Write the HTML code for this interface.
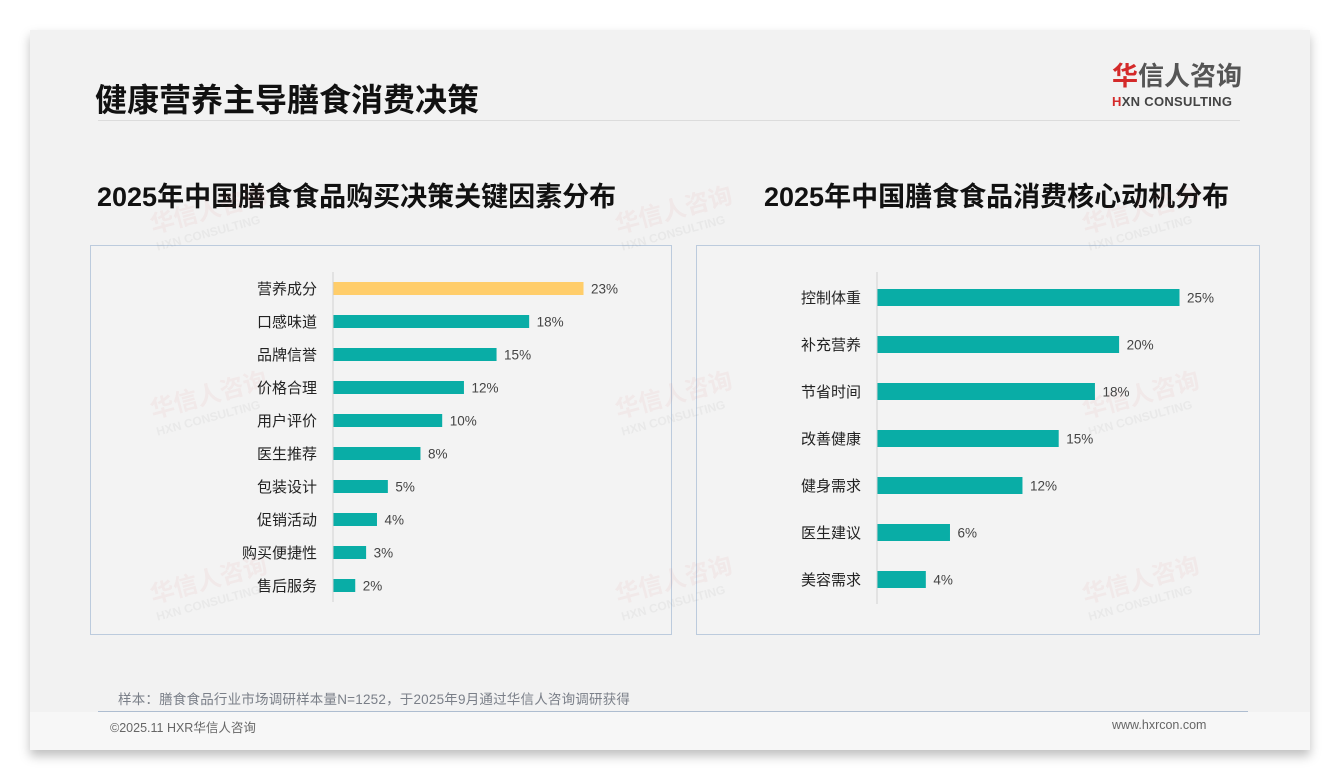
<!DOCTYPE html>
<html><head><meta charset="utf-8"><style>
*{margin:0;padding:0;box-sizing:border-box}
body{width:1340px;height:780px;background:#fff;font-family:"Liberation Sans","Noto Sans CJK SC",sans-serif;position:relative;overflow:hidden}
.abs{position:absolute}
#slide{left:30px;top:30px;width:1280px;height:720px;background:#f2f2f2;box-shadow:0 6px 10px rgba(0,0,0,0.25)}
.panel{position:absolute;border:1px solid #bccbdd;background:#f3f3f3}
.wm{position:absolute;color:rgba(220,120,120,0.08);font-size:24px;font-weight:bold;transform:rotate(-15deg);white-space:nowrap}
.wm span{display:block;font-size:12px;color:rgba(150,150,150,0.10)}
</style></head><body>
<div id="slide" class="abs"></div>
<div class="abs" style="left:30px;top:712px;width:1280px;height:38px;background:#f7f7f7"></div>
<div class="abs" style="left:95px;top:75px;font-size:32px;font-weight:bold;color:#111">健康营养主导膳食消费决策</div>
<div class="abs" style="left:98px;top:120px;width:1142px;height:1px;background:#dcdcdc"></div>
<div class="abs" style="left:1112px;top:62px;font-size:26px;font-weight:bold;color:#555;line-height:28px"><span style="color:#d42a2a">华</span>信人咨询</div>
<div class="abs" style="left:1112px;top:94px;font-size:13px;font-weight:bold;color:#444;letter-spacing:0.3px"><span style="color:#d42a2a">H</span>XN CONSULTING</div>

<div class="abs" style="left:97px;top:175px;font-size:27px;font-weight:bold;color:#111">2025年中国膳食食品购买决策关键因素分布</div>
<div class="abs" style="left:764px;top:175px;font-size:27px;font-weight:bold;color:#111">2025年中国膳食食品消费核心动机分布</div>

<div class="panel" style="left:90px;top:245px;width:582px;height:390px"></div>
<div class="panel" style="left:696px;top:245px;width:564px;height:390px"></div>

<div class="wm" style="left:150px;top:190px">华信人咨询<span>HXN CONSULTING</span></div>
<div class="wm" style="left:615px;top:190px">华信人咨询<span>HXN CONSULTING</span></div>
<div class="wm" style="left:1082px;top:190px">华信人咨询<span>HXN CONSULTING</span></div>
<div class="wm" style="left:150px;top:375px">华信人咨询<span>HXN CONSULTING</span></div>
<div class="wm" style="left:615px;top:375px">华信人咨询<span>HXN CONSULTING</span></div>
<div class="wm" style="left:1082px;top:375px">华信人咨询<span>HXN CONSULTING</span></div>
<div class="wm" style="left:150px;top:560px">华信人咨询<span>HXN CONSULTING</span></div>
<div class="wm" style="left:615px;top:560px">华信人咨询<span>HXN CONSULTING</span></div>
<div class="wm" style="left:1082px;top:560px">华信人咨询<span>HXN CONSULTING</span></div>

<svg class="abs" style="left:0;top:0" width="1340" height="780" id="charts"></svg>

<div class="abs" style="left:118px;top:688px;font-size:13.5px;color:#7a7f88;letter-spacing:0.2px">样本：膳食食品行业市场调研样本量N=1252，于2025年9月通过华信人咨询调研获得</div>
<div class="abs" style="left:98px;top:711px;width:1150px;height:1px;background:#aebdd0"></div>
<div class="abs" style="left:110px;top:717px;font-size:12.5px;color:#666">©2025.11 HXR华信人咨询</div>
<div class="abs" style="left:1112px;top:718px;font-size:12.5px;color:#666">www.hxrcon.com</div>

<script>
const leftCategories=["营养成分","口感味道","品牌信誉","价格合理","用户评价","医生推荐","包装设计","促销活动","购买便捷性","售后服务"];
const leftValues=[23,18,15,12,10,8,5,4,3,2];
const rightCategories=["控制体重","补充营养","节省时间","改善健康","健身需求","医生建议","美容需求"];
const rightValues=[25,20,18,15,12,6,4];
const NS="http://www.w3.org/2000/svg";
const svg=document.getElementById('charts');
function mk(tag,attrs){const e=document.createElementNS(NS,tag);for(const k in attrs)e.setAttribute(k,attrs[k]);svg.appendChild(e);return e;}
function draw(cats,vals,o){
  const x=v=>o.x0+v*o.scale;
  const y=i=>o.y0+i*o.step;
  const ax=mk('line',{x1:o.x0,x2:o.x0,y1:o.axTop,y2:o.axBot,stroke:'#d0d0d0','stroke-width':1});
  
  
  cats.forEach((c,i)=>{
    const r=mk('rect',{x:o.x0+0.5,y:y(i)-o.h/2,width:x(vals[i])-o.x0,height:o.h,fill:(o.hl&&i===0)?'#ffcd6a':'#09ada6'});
    
    
    const l=mk('text',{x:o.x0-16,y:y(i)+5.5,'text-anchor':'end','font-size':15,fill:'#222','font-family':'"Liberation Sans","Noto Sans CJK SC",sans-serif'});
    l.textContent=c;
    
    
    const t=mk('text',{x:x(vals[i])+8,y:y(i)+5,'font-size':13.5,fill:'#444','font-family':'"Liberation Sans",sans-serif'});
    t.textContent=vals[i]+'%';
    
    
  });
}
draw(leftCategories,leftValues,{p:'left',x0:333,scale:10.87,y0:288.5,step:33,h:13,axTop:272,axBot:602,hl:true});
draw(rightCategories,rightValues,{p:'right',x0:877,scale:12.08,y0:297.5,step:47,h:17,axTop:272,axBot:604,hl:false});
</script>
</body></html>
